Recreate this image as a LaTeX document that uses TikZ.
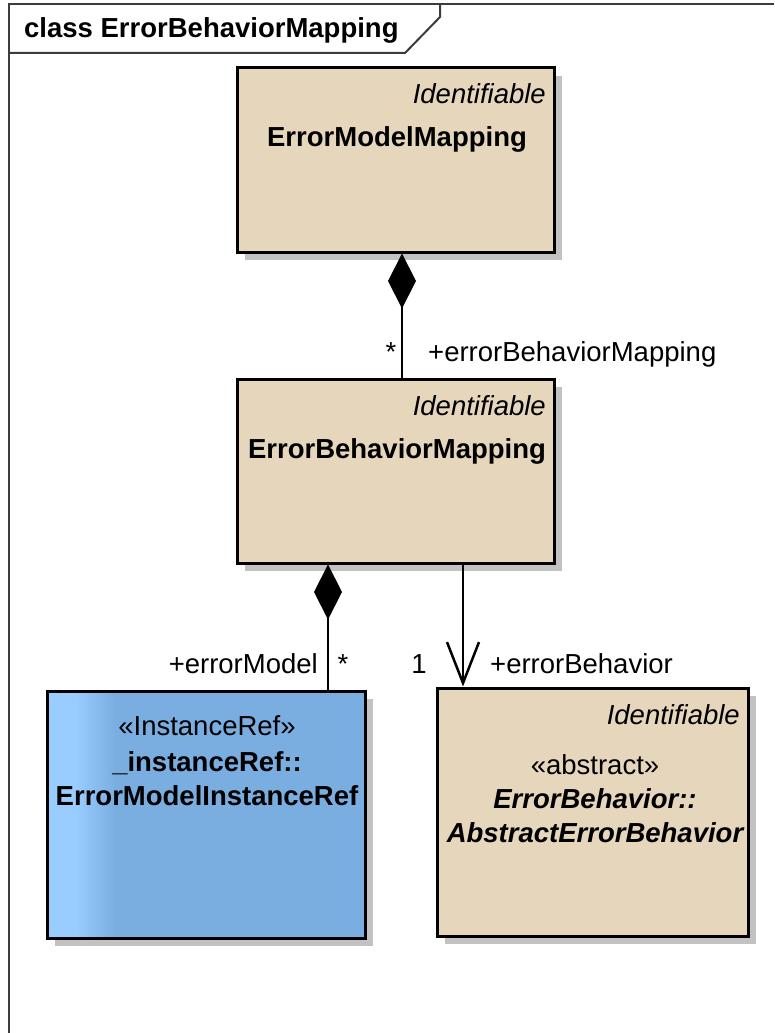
\documentclass[tikz,border=0pt]{standalone}
\usepackage{fontspec}
\setmainfont{Liberation Sans}
\usetikzlibrary{arrows.meta,shadows}
\definecolor{clsfill}{RGB}{229,214,188}
\definecolor{shadowgray}{RGB}{194,194,194}
\definecolor{irlight}{RGB}{153,204,255}
\definecolor{irmid}{RGB}{122,174,225}
\definecolor{framegray}{RGB}{60,60,60}
\begin{document}
\begin{tikzpicture}[x=1pt,y=-1pt,
  every node/.style={font=\fontsize{27.5}{33}\selectfont, inner sep=0pt},
  clsbox/.style={draw=black, line width=3pt, drop shadow={shadow xshift=8pt, shadow yshift=-8pt, fill=shadowgray, opacity=1}},
  beige/.style={clsbox, fill=clsfill},
  bluebox/.style={clsbox, fill=irmid, path picture={
      \fill[irlight] (path picture bounding box.north west) rectangle ([xshift=29pt]path picture bounding box.south west);
      \shade[left color=irlight, right color=irmid] ([xshift=28.5pt]path picture bounding box.north west) rectangle ([xshift=68pt]path picture bounding box.south west);
    }},
  frameline/.style={draw=framegray, line width=2pt},
  conn/.style={draw=black, line width=2.5pt},
  comp/.style={conn, {Diamond[length=55pt,width=28pt]}-},
  nav/.style={conn, -{Straight Barb[length=41pt,width=32pt]}},
  stereo/.style={font=\fontsize{27.5}{33}\selectfont\itshape, anchor=base east},
  cname/.style={font=\fontsize{27.5}{33}\selectfont\bfseries, anchor=base},
  lbl/.style={anchor=base}
]
\useasboundingbox (0,0) rectangle (774,1033);

% frame
\draw[frameline] (9,1033) -- (9,4) -- (774,4);
\draw[frameline] (9,53) -- (405,53) -- (440,17) -- (440,4);
\node[font=\fontsize{27.5}{33}\selectfont\bfseries, anchor=base west] (title) at (24,38) {class ErrorBehaviorMapping};

% classes
\node[beige, minimum width=317pt, minimum height=184pt] (emm) at (395.5,160) {};
\node[beige, minimum width=317pt, minimum height=184pt] (ebm) at (395.5,471) {};
\node[bluebox, minimum width=318pt, minimum height=247pt] (ir) at (206,814.5) {};
\node[beige, minimum width=311pt, minimum height=248pt] (aeb) at (592.5,812) {};

% class texts
\node[stereo] (emmS) at (546,103) {Identifiable};
\node[cname] (emmN) at (397,146) {ErrorModelMapping};
\node[stereo] (ebmS) at (546,415) {Identifiable};
\node[cname] (ebmN) at (397,458) {ErrorBehaviorMapping};
\node[lbl] (irS) at (207,735) {«InstanceRef»};
\node[cname] (irN1) at (207,771) {\_instanceRef::};
\node[cname] (irN2) at (207,805) {ErrorModelInstanceRef};
\node[stereo] (aebS) at (740,724) {Identifiable};
\node[lbl] (aebA) at (595,774) {«abstract»};
\node[cname, font=\fontsize{27.5}{33}\selectfont\bfseries\itshape] (aebN1) at (595,808) {ErrorBehavior::};
\node[cname, font=\fontsize{27.5}{33}\selectfont\bfseries\itshape] (aebN2) at (595,842) {AbstractErrorBehavior};

% connectors
\coordinate (x1) at (402,0);
\coordinate (x2) at (328,0);
\coordinate (x3) at (463,0);
\draw[comp] (emm.south -| x1) -- (ebm.north -| x1);
\draw[comp] (ebm.south -| x2) -- (ir.north -| x2);
\draw[nav] (ebm.south -| x3) -- (aeb.north -| x3);

% connector labels
\node[lbl] (m1) at (391,361) {*};
\node[lbl, anchor=base west] (r1) at (428,361) {+errorBehaviorMapping};
\node[lbl, anchor=base east] (r2) at (318,673) {+errorModel};
\node[lbl] (m2) at (343,673) {*};
\node[lbl] (m3) at (419,673) {1};
\node[lbl, anchor=base west] (r3) at (490,673) {+errorBehavior};
\end{tikzpicture}
\end{document}
